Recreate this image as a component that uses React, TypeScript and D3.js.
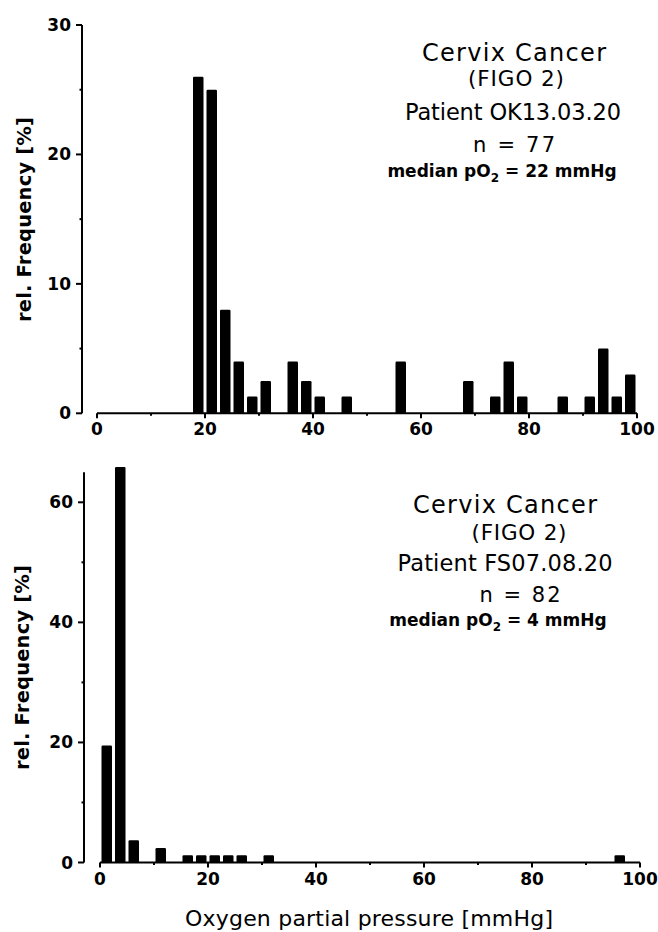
import React from "react";
import * as d3 from "d3";

// ---------- data ----------
const binWidth = 2.5;
const topBinCenters = [18.75, 21.25, 23.75, 26.25, 28.75, 31.25, 36.25, 38.75, 41.25, 46.25, 56.25, 68.75, 73.75, 76.25, 78.75, 86.25, 91.25, 93.75, 96.25, 98.75];
const topFreq = [26, 25, 8, 4, 1.3, 2.5, 4, 2.5, 1.3, 1.3, 4, 2.5, 1.3, 4, 1.3, 1.3, 1.3, 5, 1.3, 3];
const bottomBinCenters = [1.25, 3.75, 6.25, 11.25, 16.25, 18.75, 21.25, 23.75, 26.25, 31.25, 96.25];
const bottomFreq = [19.5, 65.9, 3.7, 2.4, 1.2, 1.2, 1.2, 1.2, 1.2, 1.2, 1.2];

const xMajorTicks = [0, 20, 40, 60, 80, 100];
const xMinorTicks = [10, 30, 50, 70, 90];
const topYMajor = [0, 10, 20, 30];
const topYMinor = [5, 15, 25];
const bottomYMajor = [0, 20, 40, 60];
const bottomYMinor = [10, 30, 50];

const topNotes = ["Cervix Cancer", "(FIGO 2)", "Patient OK13.03.20", "n = 77"];
const topMedian = "22";
const bottomNotes = ["Cervix Cancer", "(FIGO 2)", "Patient FS07.08.20", "n = 82"];
const bottomMedian = "4";

const yLabel = "rel. Frequency [%]";
const xLabel = "Oxygen partial pressure [mmHg]";

const FONT = "'DejaVu Sans', sans-serif";

type PanelProps = {
  centers: number[];
  freq: number[];
  yMajor: number[];
  yMinor: number[];
  yMax: number;
  yAxisTop: number;
  x0: number; x1: number;
  y0: number; y1: number;
  axisX: number;
  notes: string[];
  median: string;
  noteX: number[];
  noteY: number[];
  noteW: number[];
  medianX: number;
  medianY: number;
  labelX: number;
  labelY: number;
};

function Panel(p: PanelProps) {
  const x = d3.scaleLinear().domain([0, 100]).range([p.x0, p.x1]);
  const y = d3.scaleLinear().domain([0, p.yMax]).range([p.y0, p.y1]);
  const barW = x(binWidth) - x(0) - 3;
  const noteSizes = [24, 21.5, 22.5, 21];
  return (
    <g>
      {/* bars */}
      {p.centers.map((c, i) => (
        <rect
          key={i}
          x={x(c) - barW / 2}
          y={y(p.freq[i])}
          width={barW}
          height={y(0) - y(p.freq[i])}
          rx={1.2}
          fill="#000"
        />
      ))}
      {/* x axis */}
      <line x1={x(0)} x2={x(100)} y1={y(0)} y2={y(0)} stroke="#000" strokeWidth={2} />
      {xMajorTicks.map((t) => (
        <g key={"xm" + t}>
          <line x1={x(t)} x2={x(t)} y1={y(0)} y2={y(0) + 5} stroke="#000" strokeWidth={2} />
          <text x={x(t)} y={y(0) + 22} textAnchor="middle" fontFamily={FONT} fontWeight="bold" fontSize={17}>{t}</text>
        </g>
      ))}
      {xMinorTicks.map((t) => (
        <line key={"xn" + t} x1={x(t)} x2={x(t)} y1={y(0)} y2={y(0) + 2.5} stroke="#000" strokeWidth={2} />
      ))}
      {/* y axis */}
      <line x1={p.axisX} x2={p.axisX} y1={y(0)} y2={y(p.yAxisTop)} stroke="#000" strokeWidth={2} />
      {p.yMajor.map((t) => (
        <g key={"ym" + t}>
          <line x1={p.axisX - 6} x2={p.axisX} y1={y(t)} y2={y(t)} stroke="#000" strokeWidth={2} />
          <text x={p.axisX - 11} y={y(t) + 6} textAnchor="end" fontFamily={FONT} fontWeight="bold" fontSize={17}>{t}</text>
        </g>
      ))}
      {p.yMinor.map((t) => (
        <line key={"yn" + t} x1={p.axisX - 2.5} x2={p.axisX} y1={y(t)} y2={y(t)} stroke="#000" strokeWidth={2} />
      ))}
      {/* y label */}
      <text
        transform={`translate(${p.labelX},${p.labelY}) rotate(-90)`}
        textAnchor="middle"
        fontFamily={FONT}
        fontWeight="bold"
        fontSize={19.5}
        textLength={205}
        lengthAdjust="spacing"
      >
        {yLabel}
      </text>
      {/* annotations */}
      {p.notes.map((n, i) => (
        <text
          key={"n" + i}
          x={p.noteX[i]}
          y={p.noteY[i]}
          textAnchor="middle"
          fontFamily={FONT}
          fontSize={noteSizes[i]}
          textLength={p.noteW[i]}
          lengthAdjust="spacing"
          style={{ whiteSpace: "pre" }}
        >
          {n}
        </text>
      ))}
      <text x={p.medianX} y={p.medianY} textAnchor="middle" fontFamily={FONT} fontWeight="bold" fontSize={17}>
        median pO
        <tspan dy={5} fontSize={12}>2</tspan>
        <tspan dy={-5}>{" = " + p.median + " mmHg"}</tspan>
      </text>
    </g>
  );
}

export default function App() {
  return (
    <svg
      width={658}
      height={932}
      viewBox="0 0 658 932"
      style={{ position: "absolute", left: 0, top: 0, background: "#fff" }}
    >
      <rect x={0} y={0} width={658} height={932} fill="#fff" />
      <Panel
        centers={topBinCenters}
        freq={topFreq}
        yMajor={topYMajor}
        yMinor={topYMinor}
        yMax={30}
        yAxisTop={30}
        x0={97}
        x1={637}
        y0={413.3}
        y1={25}
        axisX={82}
        notes={topNotes}
        median={topMedian}
        noteX={[514, 516, 513, 514]}
        noteY={[61, 86, 120, 151.5]}
        noteW={[184, 96, 216, 82]}
        medianX={502}
        medianY={177}
        labelX={31}
        labelY={219.5}
      />
      <Panel
        centers={bottomBinCenters}
        freq={bottomFreq}
        yMajor={bottomYMajor}
        yMinor={bottomYMinor}
        yMax={60}
        yAxisTop={65}
        x0={100}
        x1={640}
        y0={862.5}
        y1={502.3}
        axisX={84}
        notes={bottomNotes}
        median={bottomMedian}
        noteX={[505, 519, 505, 520]}
        noteY={[513, 540, 570.5, 601.5]}
        noteW={[184, 95, 215, 81]}
        medianX={498}
        medianY={626}
        labelX={29}
        labelY={667.5}
      />
      <text x={369} y={926} textAnchor="middle" fontFamily={FONT} fontSize={22} textLength={368} lengthAdjust="spacing">
        {xLabel}
      </text>
    </svg>
  );
}
